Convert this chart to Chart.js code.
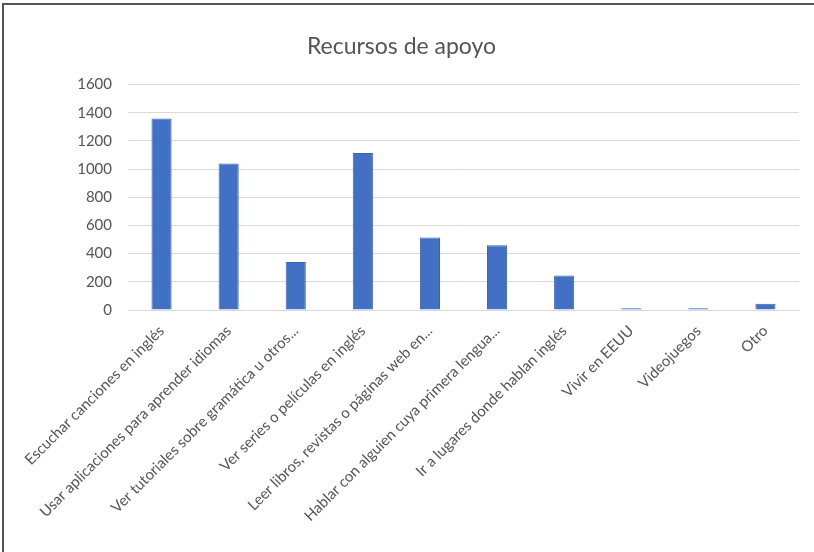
<!DOCTYPE html>
<html>
<head>
<meta charset="utf-8">
<script src="https://cdn.jsdelivr.net/npm/chart.js@4/dist/chart.umd.min.js"></script>
<style>
  html, body { margin: 0; padding: 0; background: #fff; overflow: hidden; width: 814px; height: 552px; }
  #chart { position: absolute; left: 4px; top: 5px; display: block; }
  .borde { position: absolute; background: #555; }
  #bordeTop { left: 2px; top: 3px; width: 812px; height: 2px; }
  #bordeLeft { left: 2px; top: 3px; width: 2px; height: 549px; }
</style>
</head>
<body>
<div class="borde" id="bordeTop"></div>
<div class="borde" id="bordeLeft"></div>
<canvas id="chart"></canvas>
<script>
// categorias (eje x)
const categorias = [
    "Escuchar canciones en inglés",
    "Usar aplicaciones para aprender idiomas",
    "Ver tutoriales sobre gramática u otros...",
    "Ver series o películas en inglés",
    "Leer libros, revistas o páginas web en...",
    "Hablar con alguien cuya primera lengua...",
    "Ir a lugares donde hablan inglés",
    "Vivir en EEUU",
    "Videojuegos",
    "Otro"
]
// valores
const valores = [1360, 1040, 340, 1115, 515, 460, 245, 12, 12, 45]
const ticksY = [0, 200, 400, 600, 800, 1000, 1200, 1400, 1600]

const gris = '#555555'
const fuente = 'Lato, "Liberation Sans", sans-serif'

const config = {
    type: 'bar',
    data: {
        labels: categorias,
        datasets: [{
            label: 'Recursos de apoyo',
            data: valores,
            backgroundColor: '#4170c4',
            borderColor: '#3a64b4',
            borderWidth: 1,
            barPercentage: 1,
            categoryPercentage: 0.3
        }]
    },
    options: {
        responsive: false,
        animation: false,
        layout: { padding: { top: 28, right: 15, left: 0, bottom: 0 } },
        plugins: {
            legend: { display: false },
            tooltip: { enabled: false },
            title: {
                display: true,
                text: 'Recursos de apoyo',
                color: gris,
                font: { family: fuente, size: 23, weight: 'normal' },
                padding: { top: 0, bottom: 24 }
            }
        },
        scales: {
            x: {
                grid: { display: false },
                border: { color: '#d9d9d9' },
                ticks: {
                    color: gris,
                    font: { family: fuente, size: 15 },
                    minRotation: 45,
                    maxRotation: 45,
                    autoSkip: false,
                    padding: 4
                },
                afterFit: (scale) => { scale.height = 242 }
            },
            y: {
                min: 0,
                max: 1600,
                border: { display: false },
                grid: { color: '#d9d9d9', drawTicks: false },
                afterBuildTicks: (scale) => { scale.ticks = ticksY.map(v => ({ value: v })) },
                ticks: {
                    color: gris,
                    font: { family: fuente, size: 15 },
                    padding: 16,
                    callback: (v) => String(v)
                },
                afterFit: (scale) => { scale.width = 124 }
            }
        }
    }
}

const canvas = document.getElementById('chart')
canvas.width = 810
canvas.height = 547
new Chart(canvas, config)
</script>
</body>
</html>
